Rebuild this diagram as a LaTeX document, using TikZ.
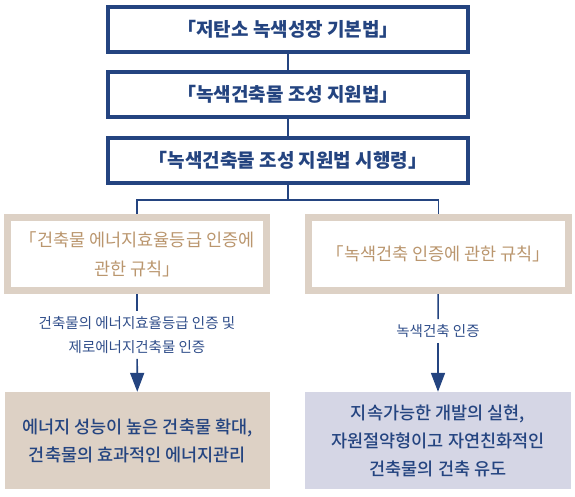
\documentclass[tikz,border=0pt]{standalone}
\usepackage{fontspec}
\setmainfont{Noto Sans CJK KR}
\newfontfamily\medfont{Noto Sans CJK KR Medium}
\usetikzlibrary{positioning}
\usetikzlibrary{arrows.meta}

\definecolor{lawblue}{RGB}{36,68,128}
\definecolor{rulebeige}{RGB}{221,209,197}
\definecolor{ruletan}{RGB}{186,150,110}
\definecolor{goalgray}{RGB}{213,214,229}
\definecolor{linkblue}{RGB}{48,78,138}

\begin{document}
\begin{tikzpicture}[x=1pt,y=-1pt,
    lawbox/.style={draw=lawblue, line width=4pt, minimum width=360pt, minimum height=45pt,
        inner sep=0pt, font=\fontsize{19}{22}\selectfont\bfseries, text=lawblue},
    rulebox/.style={draw=rulebeige, line width=7pt, minimum width=259pt, minimum height=73pt,
        inner sep=0pt, align=center, font=\fontsize{17.5}{29}\selectfont, text=ruletan},
    goalbox/.style={minimum height=97pt, align=center, inner sep=0pt,
        font=\medfont\fontsize{17.5}{28}\selectfont, text=lawblue},
    linklabel/.style={align=center, inner sep=5pt, font=\fontsize{14.5}{24}\selectfont, text=linkblue},
    link/.style={draw=lawblue, line width=1.5pt},
    goalarrow/.style={link, line width=1.7pt, -{Triangle[width=14pt,length=19pt]}}]

\useasboundingbox (0,0) rectangle (575,496);

\node[lawbox] (basic) at (288,29.5) {「저탄소 녹색성장 기본법」};
\node[lawbox] (support) at (288,94) {「녹색건축물 조성 지원법」};
\node[lawbox] (decree) at (288,160) {「녹색건축물 조성 지원법 시행령」};

\coordinate (split) at (288,200);

\node[rulebox] (effrule) at (137,254) {「건축물 에너지효율등급 인증에\\관한 규칙」};
\node[rulebox, minimum width=260pt] (greenrule) at (438.5,254) {「녹색건축 인증에 관한 규칙」};

\node[linklabel] (efflabel) at (137,335) {건축물의 에너지효율등급 인증 및\\제로에너지건축물 인증};
\node[linklabel] (greenlabel) at (438,331) {녹색건축 인증};

\node[goalbox, fill=rulebeige, minimum width=265pt] (effgoal) at (137.5,440.5)
    {에너지 성능이 높은 건축물 확대,\\건축물의 효과적인 에너지관리};
\node[goalbox, fill=goalgray, minimum width=266pt] (greengoal) at (438,440.5)
    {지속가능한 개발의 실현,\\자원절약형이고 자연친화적인\\건축물의 건축 유도};

\draw[link] (basic) -- (support);
\draw[link] (support) -- (decree);
\draw[link] (decree) -- (split);
\draw[link] (split) -| (effrule);
\draw[link] (split) -| (greenrule);

\draw[link] (effrule) -- (efflabel);
\draw[link] (greenrule) -- (greenlabel);
\draw[goalarrow] (efflabel) -- (effgoal);
\draw[goalarrow] (greenlabel) -- (greengoal);

\end{tikzpicture}
\end{document}
